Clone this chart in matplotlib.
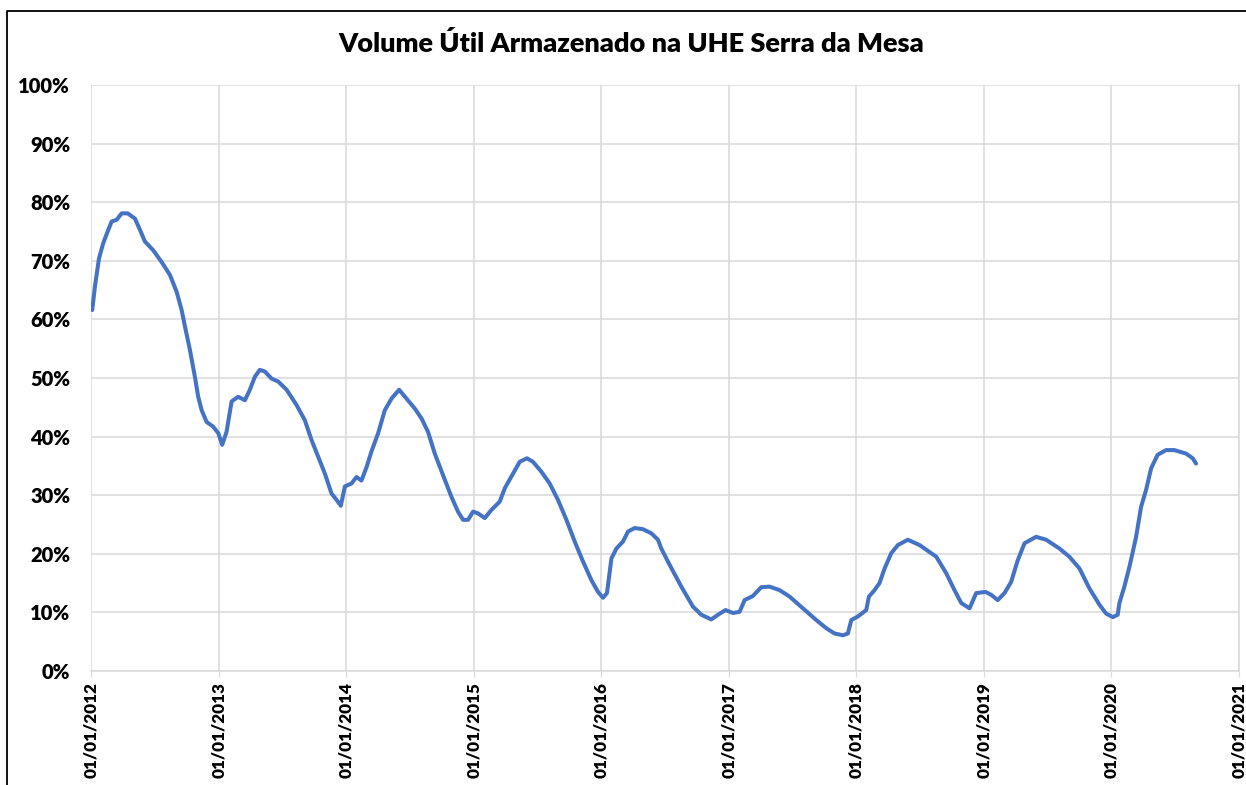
import matplotlib
matplotlib.use('Agg')
import matplotlib.pyplot as plt
import matplotlib.dates as mdates
from matplotlib.lines import Line2D
from matplotlib.ticker import FuncFormatter
import pandas as pd

plt.rcParams['font.family'] = ['Lato', 'DejaVu Sans']

# time as years after 01/01/2012, volume in %
t_years = [0.010, 0.031, 0.063, 0.096, 0.131, 0.162, 0.201, 0.241, 0.288, 0.345,
           0.384, 0.423, 0.488, 0.554, 0.619, 0.672, 0.711, 0.737, 0.776, 0.815,
           0.841, 0.868, 0.907, 0.958, 0.998, 1.029, 1.063, 1.103, 1.154, 1.207,
           1.246, 1.285, 1.324, 1.364, 1.416, 1.468, 1.534, 1.612, 1.677, 1.730,
           1.781, 1.834, 1.886, 1.926, 1.959, 1.991, 2.043, 2.082, 2.121, 2.161,
           2.200, 2.252, 2.304, 2.357, 2.416, 2.474, 2.539, 2.592, 2.643, 2.696,
           2.761, 2.827, 2.878, 2.918, 2.957, 2.996, 3.035, 3.088, 3.140, 3.205,
           3.245, 3.310, 3.362, 3.419, 3.466, 3.532, 3.597, 3.662, 3.728, 3.793,
           3.858, 3.924, 3.976, 4.015, 4.046, 4.081, 4.120, 4.172, 4.211, 4.263,
           4.328, 4.394, 4.446, 4.472, 4.538, 4.629, 4.720, 4.786, 4.864, 4.916,
           4.976, 5.034, 5.086, 5.125, 5.190, 5.256, 5.321, 5.400, 5.478, 5.582,
           5.687, 5.766, 5.831, 5.896, 5.935, 5.962, 6.013, 6.079, 6.100, 6.144,
           6.183, 6.223, 6.275, 6.327, 6.405, 6.497, 6.628, 6.706, 6.771, 6.824,
           6.889, 6.941, 7.014, 7.059, 7.110, 7.163, 7.215, 7.267, 7.320, 7.411,
           7.490, 7.594, 7.672, 7.751, 7.829, 7.908, 7.960, 8.012, 8.051, 8.064,
           8.103, 8.143, 8.195, 8.234, 8.273, 8.313, 8.364, 8.430, 8.495, 8.587,
           8.639, 8.665]
volume = [61.6, 65.6, 70.4, 73.0, 75.0, 76.7, 77.0, 78.1, 78.1, 77.2,
          75.3, 73.3, 71.8, 69.8, 67.6, 64.7, 61.6, 58.8, 54.8, 50.2,
          46.8, 44.5, 42.5, 41.7, 40.6, 38.6, 40.8, 46.0, 46.8, 46.2,
          48.0, 50.2, 51.4, 51.1, 49.9, 49.4, 48.0, 45.4, 42.8, 39.4,
          36.6, 33.7, 30.3, 29.2, 28.2, 31.5, 32.0, 33.1, 32.5, 34.8,
          37.5, 40.6, 44.5, 46.5, 48.0, 46.5, 44.8, 43.1, 40.8, 37.1,
          33.4, 29.7, 27.2, 25.8, 25.8, 27.2, 26.9, 26.1, 27.5, 28.9,
          31.2, 33.7, 35.7, 36.3, 35.7, 34.0, 32.0, 29.2, 25.8, 22.1,
          18.7, 15.5, 13.5, 12.5, 13.3, 19.2, 20.9, 22.1, 23.8, 24.4,
          24.2, 23.5, 22.4, 20.9, 18.1, 14.4, 11.0, 9.6, 8.8, 9.6,
          10.4, 9.9, 10.1, 12.1, 12.8, 14.3, 14.4, 13.8, 12.7, 10.7,
          8.7, 7.3, 6.4, 6.1, 6.4, 8.7, 9.3, 10.4, 12.7, 13.8,
          15.0, 17.5, 20.1, 21.5, 22.4, 21.5, 19.5, 16.7, 13.8, 11.6,
          10.7, 13.3, 13.5, 13.0, 12.1, 13.3, 15.2, 18.9, 21.8, 22.9,
          22.4, 20.9, 19.5, 17.5, 14.1, 11.3, 9.8, 9.2, 9.6, 11.6,
          14.4, 17.8, 22.9, 28.0, 30.9, 34.6, 36.9, 37.7, 37.7, 37.1,
          36.3, 35.4]
years = list(range(2012, 2022))
title = 'Volume Útil Armazenado na UHE Serra da Mesa'

start = pd.Timestamp('2012-01-01')
dates = [start + pd.to_timedelta(t * 365.25, unit='D') for t in t_years]
tick_dates = [pd.Timestamp(f'{y}-01-01') for y in years]

fig = plt.figure(figsize=(12.46, 7.85), dpi=100)
ax = fig.add_axes([0.0730, 0.1452, 0.9214, 0.7465])

grid_c = '#d9d9d9'
ax.plot(dates, volume, color='#4472C4', linewidth=2.9, solid_capstyle='round')

ax.set_xlim(tick_dates[0], tick_dates[-1])
ax.set_ylim(0, 100)
ax.set_yticks(range(0, 101, 10))
ax.yaxis.set_major_formatter(FuncFormatter(lambda v, p: f'{v:.0f}%'))
ax.set_xticks(tick_dates)
ax.xaxis.set_major_formatter(mdates.DateFormatter('%d/%m/%Y'))

ax.grid(True, color=grid_c, linewidth=1.1)
ax.set_axisbelow(True)
for s in ['top', 'left']:
    ax.spines[s].set_visible(False)
ax.spines['right'].set_color(grid_c)
ax.spines['right'].set_linewidth(1.1)
ax.spines['bottom'].set_color(grid_c)
ax.spines['bottom'].set_linewidth(1.1)

ax.tick_params(axis='y', length=0, pad=15, labelsize=14.5)
ax.tick_params(axis='x', length=4, color=grid_c, pad=4, labelsize=12.3, rotation=90)
for lab in ax.get_xticklabels() + ax.get_yticklabels():
    lab.set_fontweight('heavy')

fig.text(0.507, 0.944, title, ha='center', va='center', fontsize=19.5, fontweight='heavy')

# chart border (top and left visible)
x0 = 7 / 1246
y0 = 1 - 11 / 785
fig.add_artist(Line2D([x0, x0, 1.0], [0, y0, y0], color='black', linewidth=1.3,
                      transform=fig.transFigure))

fig.savefig('out.png', dpi=100)
